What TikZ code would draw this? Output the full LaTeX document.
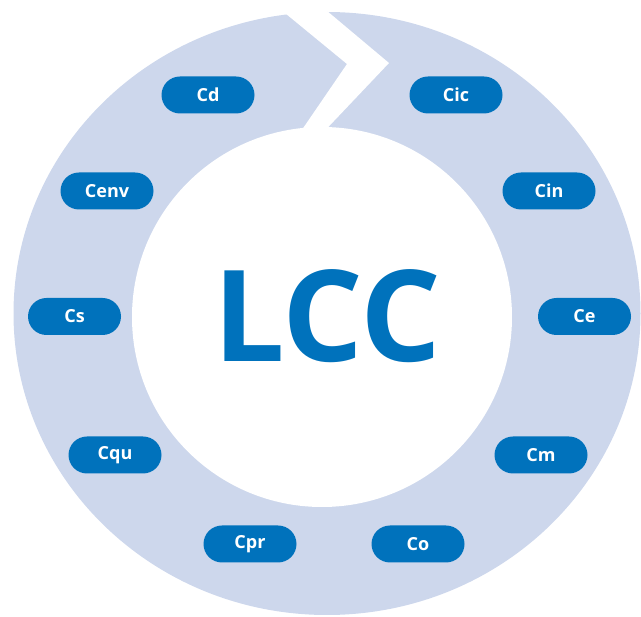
\documentclass[tikz,border=0pt]{standalone}
\usepackage{fontspec}
\setmainfont{Open Sans}
\definecolor{ringblue}{HTML}{CDD7EC}
\definecolor{pillblue}{HTML}{0072BC}
\begin{document}
\begin{tikzpicture}[x=1pt,y=-1pt,
  pill/.style={fill=pillblue, rounded corners=18.5pt, minimum width=93pt, minimum height=37pt,
    inner sep=0pt, text=white, font=\fontsize{18}{20}\selectfont\bfseries}]
\useasboundingbox (0,0) rectangle (641,617);
% ring
\fill[ringblue] (327,313.5) ellipse [x radius=313.5, y radius=301.5];
\fill[white] (322,317) circle [radius=190];
% notch gap
\fill[white] (263,-5) -- (347,64) -- (295,140) -- (316,140) -- (389,63) -- (308,-5) -- cycle;
% centre label
\node[text=pillblue, font=\fontsize{127}{130}\selectfont\bfseries, inner sep=0pt] (lcc) at (327.5,316) {LCC};
% pills
\node[pill] (cd)   at (208,95)  {Cd};
\node[pill] (cic)  at (456,95)  {Cic};
\node[pill] (cenv) at (107,191) {Cenv};
\node[pill] (cin)  at (549,191) {Cin};
\node[pill] (cs)   at (74.5,316.5) {Cs};
\node[pill] (ce)   at (584.5,316.5) {Ce};
\node[pill] (cqu)  at (115,455) {Cqu};
\node[pill] (cm)   at (541,455) {Cm};
\node[pill] (cpr)  at (250,544) {Cpr};
\node[pill] (co)   at (418,544) {Co};
\end{tikzpicture}
\end{document}
